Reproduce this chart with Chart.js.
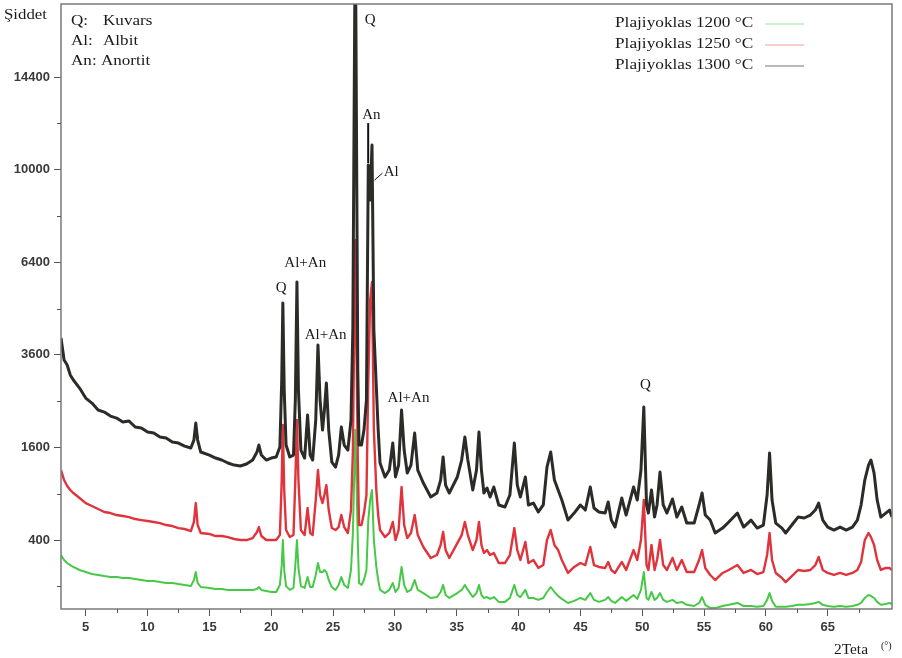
<!DOCTYPE html>
<html>
<head>
<meta charset="utf-8">
<title>XRD - Plajiyoklas</title>
<script src="https://cdn.jsdelivr.net/npm/chart.js@4.4.0/dist/chart.umd.min.js"></script>
<style>
  html, body { margin: 0; padding: 0; background: #fff; }
  #wrap { width: 902px; height: 658px; position: relative; }
</style>
</head>
<body>
<div id="wrap"><canvas id="xrdChart"></canvas></div>
<script>
// ==================== DATA ====================
// 2θ positions (degrees), shared by the three patterns
const twoTheta = [
  3.0, 3.25, 3.5, 3.75, 4.0, 4.5, 5.0, 5.5, 6.0, 6.5, 7.0, 7.5,
  8.0, 8.5, 9.0, 9.5, 10.0, 10.5, 11.0, 11.5, 12.0, 12.5, 13.0, 13.5,
  13.75, 13.9, 14.05, 14.3, 15.0, 15.5, 16.0, 16.5, 17.0, 17.5, 18.0, 18.5, 18.85, 19.0, 19.2, 19.6, 20.0, 20.4,
  20.7, 20.85, 20.94, 21.05, 21.2, 21.5, 21.8, 21.95, 22.08, 22.2, 22.4, 22.7, 22.94,
  23.15, 23.35, 23.6, 23.78, 23.95, 24.15, 24.3, 24.46, 24.65, 24.9, 25.2, 25.45, 25.67, 25.9, 26.2, 26.45,
  26.6, 26.8, 27.0, 27.1, 27.3, 27.5, 27.7, 27.85, 28.0, 28.15, 28.3, 28.5, 28.65, 28.8,
  29.2, 29.55, 29.83, 30.05, 30.3, 30.54, 30.75, 31.0, 31.3, 31.6, 31.85, 32.3, 32.9, 33.4, 33.7, 33.9, 34.1, 34.4,
  35.05, 35.4, 35.66, 35.9, 36.3, 36.6, 36.8, 37.0, 37.2, 37.45, 37.7, 38.0, 38.4, 38.9, 39.3, 39.66, 39.9,
  40.15, 40.55, 40.8, 41.2, 41.6, 42.0, 42.3, 42.6, 42.9, 43.2, 43.5, 44.0, 44.5, 45.0, 45.4, 45.8,
  46.1, 46.5, 47.0, 47.25, 47.5, 47.8, 48.35, 48.7, 49.3, 49.6, 49.9, 50.13, 50.35, 50.5, 50.75, 51.0,
  51.2, 51.44, 51.7, 52.0, 52.45, 52.8, 53.2, 53.6, 54.2, 54.6, 54.84, 55.1, 55.5, 55.9, 56.5,
  57.0, 57.7, 58.2, 58.8, 59.3, 59.8, 60.1, 60.3, 60.5, 60.8, 61.3, 61.6, 62.1, 62.6,
  63.1, 63.6, 64.0, 64.27, 64.6, 65.0, 65.5, 66.0, 66.5, 67.0, 67.4, 67.7,
  68.0, 68.3, 68.5, 68.75, 69.0, 69.3, 69.7, 70.0, 70.2
];

// intensities (counts) for each firing temperature
const int1200 = [
  281, 246, 226, 213, 201, 183, 171, 160, 155, 149, 144, 144,
  139, 139, 134, 129, 124, 124, 119, 115, 115, 110, 106, 101,
  129, 171, 115, 97, 93, 89, 89, 85, 85, 85, 85, 85, 89, 97, 85, 81, 77, 77,
  106, 213, 400, 183, 101, 85, 93, 213, 400, 195, 101, 93, 144,
  97, 97, 155, 226, 171, 171, 183, 171, 129, 97, 85, 106, 144, 106, 93, 183,
  450, 1918, 400, 115, 106, 129, 183, 591, 820, 949, 400, 201, 129, 85,
  73, 85, 115, 77, 93, 201, 106, 77, 85, 129, 85, 73, 56, 59, 77, 106, 66, 56,
  73, 85, 106, 85, 59, 73, 106, 66, 56, 59, 53, 59, 44, 44, 56, 106, 66,
  59, 85, 56, 56, 50, 56, 77, 97, 77, 63, 53, 41, 47, 56, 50, 73,
  50, 44, 50, 59, 47, 41, 59, 47, 66, 53, 85, 171, 56, 50, 77, 50,
  56, 73, 50, 44, 50, 41, 44, 36, 33, 41, 59, 36, 28, 28, 33,
  36, 41, 33, 33, 31, 33, 50, 73, 47, 31, 31, 31, 33, 36,
  36, 38, 41, 44, 36, 33, 31, 33, 31, 33, 36, 41,
  56, 66, 63, 56, 44, 36, 38, 41, 38
];

const int1250 = [
  1233, 1086, 1003, 949, 909, 845, 783, 748, 713, 679, 667, 645,
  634, 623, 602, 591, 581, 571, 560, 540, 530, 510, 501, 481,
  571, 783, 540, 463, 454, 435, 435, 426, 409, 400, 400, 417, 472, 520, 435, 400, 400, 400,
  444, 1086, 2011, 949, 491, 426, 444, 1086, 2109, 1086, 491, 444, 724,
  463, 444, 820, 1233, 883, 783, 883, 1016, 701, 510, 491, 520, 645, 520, 463, 701,
  1500, 7190, 1400, 540, 540, 667, 883, 2977, 5161, 5734, 1915, 949, 645, 491,
  426, 463, 571, 400, 491, 989, 540, 417, 463, 645, 444, 342, 260, 281, 358, 472, 318, 260,
  374, 444, 571, 444, 318, 400, 571, 358, 296, 318, 281, 296, 226, 226, 281, 510, 318,
  246, 383, 226, 246, 195, 213, 400, 491, 358, 318, 246, 166, 201, 226, 213, 342,
  213, 201, 195, 233, 183, 166, 233, 183, 318, 246, 400, 820, 213, 183, 358, 183,
  246, 400, 213, 183, 260, 183, 246, 171, 171, 246, 318, 195, 155, 129, 166,
  183, 213, 166, 183, 160, 171, 281, 463, 246, 166, 139, 119, 149, 183,
  177, 183, 213, 267, 183, 166, 155, 166, 155, 166, 183, 233,
  400, 463, 426, 358, 246, 183, 195, 195, 183
];

const int1300 = [
  4049, 3467, 3341, 3096, 2977, 2791, 2567, 2459, 2312, 2270, 2188, 2148,
  2069, 2089, 1972, 1953, 1877, 1858, 1785, 1767, 1695, 1677, 1624, 1590,
  1731, 2049, 1731, 1522, 1471, 1422, 1390, 1342, 1310, 1295, 1326, 1390, 1522, 1642, 1471, 1390, 1422, 1439,
  1607, 2977, 5068, 2746, 1642, 1439, 1471, 2524, 5734, 2746, 1555, 1422, 2209,
  1471, 1390, 2109, 3859, 2524, 1915, 2312, 2906, 1915, 1358, 1279, 1471, 1972, 1642, 1555, 2109,
  4300, 24000, 3200, 1642, 1642, 1915, 2524, 10200, 8730, 11090, 4272, 2814, 1915, 1342,
  1130, 1233, 1677, 1130, 1310, 2312, 1555, 1188, 1310, 1858, 1233, 1044, 858, 909, 1086, 1439, 1016, 909,
  1130, 1390, 1785, 1390, 949, 1233, 1877, 1233, 909, 975, 858, 989, 760, 736, 883, 1677, 1016,
  858, 1130, 760, 783, 679, 760, 1279, 1522, 1086, 949, 820, 591, 667, 760, 701, 989,
  724, 679, 667, 796, 591, 520, 845, 645, 989, 820, 1233, 2375, 760, 667, 949, 623,
  760, 1203, 760, 667, 833, 623, 736, 560, 560, 760, 909, 645, 591, 463, 510,
  571, 667, 520, 591, 510, 540, 883, 1505, 820, 560, 510, 463, 540, 623,
  613, 645, 701, 783, 591, 520, 491, 520, 491, 520, 591, 760,
  1086, 1310, 1390, 1188, 820, 623, 667, 701, 623
];

const seriesLabels = ['Plajiyoklas 1200 °C', 'Plajiyoklas 1250 °C', 'Plajiyoklas 1300 °C'];

// axis ticks
const xTicks = [5, 10, 15, 20, 25, 30, 35, 40, 45, 50, 55, 60, 65];
const xMinor = [7.5, 12.5, 17.5, 22.5, 27.5, 32.5, 37.5, 42.5, 47.5, 52.5, 57.5, 62.5, 67.5];
const yTicks = [400, 1600, 3600, 6400, 10000, 14400];
const yMinor = [100, 900, 2500, 4900, 8100, 12100];

// phase key and peak names
const phaseKey = [['Q:', 'Kuvars'], ['Al:', 'Albit'], ['An: Anortit', '']];
const peakLabels = [
  { text: 'Q', x: 28.0, y: 17500 },
  { text: 'An', x: 28.1, y: 12500 },
  { text: 'Al', x: 29.1, y: 9900, left: true },
  { text: 'Al+An', x: 22.75, y: 6370 },
  { text: 'Q', x: 20.8, y: 5540 },
  { text: 'Al+An', x: 24.4, y: 4130 },
  { text: 'Al+An', x: 31.1, y: 2570 },
  { text: 'Q', x: 50.25, y: 2860 }
];

// ==================== SQRT SCALE ====================
class SqrtScale extends Chart.LinearScale {
  getPixelForValue(value) {
    const lo = Math.sqrt(this.min), hi = Math.sqrt(this.max);
    return this.getPixelForDecimal((Math.sqrt(Math.max(value, 0)) - lo) / (hi - lo));
  }
  getValueForPixel(pixel) {
    const lo = Math.sqrt(this.min), hi = Math.sqrt(this.max);
    const s = lo + this.getDecimalForPixel(pixel) * (hi - lo);
    return s * s;
  }
}
SqrtScale.id = 'sqrt';
SqrtScale.defaults = {};
Chart.register(SqrtScale);

// ==================== HELPERS ====================
const toPoints = (values) => values.map((v, i) => ({ x: twoTheta[i], y: v }));
const serif = (size) => `${size}px "Liberation Serif", "Times New Roman", serif`;

// the serif captions are set a little wide
function wideText(ctx, text, x, y, sx) {
  ctx.save();
  ctx.translate(x, y);
  ctx.scale(sx, 1);
  ctx.fillText(text, 0, 0);
  ctx.restore();
}

const decorPlugin = {
  id: 'decor',
  afterDatasetsDraw(chart) {
    const { ctx, scales: { x, y } } = chart;
    ctx.save();

    // peak names
    ctx.fillStyle = '#1a1a1a';
    ctx.font = serif(15);
    ctx.textBaseline = 'middle';
    peakLabels.forEach(p => {
      ctx.textAlign = p.left ? 'left' : 'center';
      ctx.fillText(p.text, x.getPixelForValue(p.x), y.getPixelForValue(p.y));
    });

    // An marker and Al leader
    ctx.strokeStyle = '#111';
    ctx.lineWidth = 2;
    ctx.beginPath();
    ctx.moveTo(x.getPixelForValue(27.84), y.getPixelForValue(12115));
    ctx.lineTo(x.getPixelForValue(27.84), y.getPixelForValue(10288));
    ctx.stroke();
    ctx.lineWidth = 1;
    ctx.beginPath();
    ctx.moveTo(x.getPixelForValue(28.35), y.getPixelForValue(9555));
    ctx.lineTo(x.getPixelForValue(29.0), y.getPixelForValue(9854));
    ctx.stroke();
    ctx.restore();
  },
  afterDraw(chart) {
    const { ctx, chartArea: a, scales: { x, y } } = chart;
    ctx.save();

    // frame
    ctx.strokeStyle = '#7a7a7a';
    ctx.lineWidth = 1.5;
    ctx.strokeRect(a.left, a.top, a.right - a.left, a.bottom - a.top);

    // minor ticks
    ctx.strokeStyle = '#555';
    ctx.lineWidth = 1;
    ctx.beginPath();
    xMinor.forEach(v => {
      const px = Math.round(x.getPixelForValue(v)) + 0.5;
      ctx.moveTo(px, a.bottom); ctx.lineTo(px, a.bottom + 4);
    });
    yMinor.forEach(v => {
      const py = Math.round(y.getPixelForValue(v)) + 0.5;
      ctx.moveTo(a.left, py); ctx.lineTo(a.left - 4, py);
    });
    ctx.stroke();

    ctx.fillStyle = '#1a1a1a';
    ctx.textBaseline = 'middle';
    ctx.textAlign = 'left';

    // axis titles
    ctx.font = serif(14);
    wideText(ctx, 'Şiddet', 4, 15, 1.2);
    wideText(ctx, '2Teta', 834, 650, 1.1);
    ctx.font = serif(10);
    ctx.fillText('(°)', 881, 646);

    // phase key
    ctx.font = serif(15);
    phaseKey.forEach((row, i) => {
      wideText(ctx, row[0], 71, 21 + i * 20, 1.14);
      if (row[1]) wideText(ctx, row[1], 103, 21 + i * 20, 1.14);
    });

    // series legend
    chart.data.datasets.forEach((ds, i) => {
      const cy = 23 + i * 21;
      ctx.fillStyle = '#1a1a1a';
      wideText(ctx, ds.label, 615, cy, 1.15);
      ctx.strokeStyle = ds.legendColor;
      ctx.lineWidth = 1.2;
      ctx.beginPath();
      ctx.moveTo(765, cy + 1); ctx.lineTo(804, cy + 1);
      ctx.stroke();
    });
    ctx.restore();
  }
};

const tickFont = { family: 'Liberation Sans', size: 13, weight: 'bold' };

// ==================== CHART ====================
const ctx = document.getElementById('xrdChart');
new Chart(ctx, {
  type: 'line',
  data: {
    datasets: [
      { label: seriesLabels[0], data: toPoints(int1200), borderColor: '#47c947', legendColor: '#9fe0a8', borderWidth: 2, order: 2 },
      { label: seriesLabels[1], data: toPoints(int1250), borderColor: '#e0343c', legendColor: '#f0a0a8', borderWidth: 2.4, order: 1 },
      { label: seriesLabels[2], data: toPoints(int1300), borderColor: '#2b2b28', legendColor: '#777', borderWidth: 3, order: 0 }
    ]
  },
  options: {
    responsive: true,
    maintainAspectRatio: false,
    animation: false,
    parsing: false,
    elements: {
      point: { radius: 0 },
      line: { tension: 0, borderJoinStyle: 'round' }
    },
    layout: { padding: { top: 4, right: 10, left: 0, bottom: 0 } },
    plugins: {
      legend: { display: false },
      tooltip: { enabled: false }
    },
    scales: {
      x: {
        type: 'linear',
        min: 3,
        max: 70.2,
        bounds: 'data',
        afterFit(scale) { scale.height = 49; scale.paddingLeft = 0; scale.paddingRight = 0; },
        afterBuildTicks(scale) { scale.ticks = xTicks.map(v => ({ value: v })); },
        grid: { drawOnChartArea: false, drawTicks: true, tickLength: 7, color: '#555' },
        border: { display: false },
        ticks: {
          autoSkip: false, maxRotation: 0, padding: 4, color: '#3a3a3a',
          font: tickFont,
          callback: (v) => String(v)
        }
      },
      y: {
        type: 'sqrt',
        min: 26,
        max: 18440,
        bounds: 'data',
        afterFit(scale) { scale.width = 61; scale.paddingTop = 0; scale.paddingBottom = 0; },
        afterBuildTicks(scale) { scale.ticks = yTicks.map(v => ({ value: v })); },
        grid: { drawOnChartArea: false, drawTicks: true, tickLength: 7, color: '#555' },
        border: { display: false },
        ticks: {
          autoSkip: false, padding: 4, color: '#3a3a3a',
          font: tickFont,
          callback: (v) => String(v)
        }
      }
    }
  },
  plugins: [decorPlugin]
});
</script>
</body>
</html>
